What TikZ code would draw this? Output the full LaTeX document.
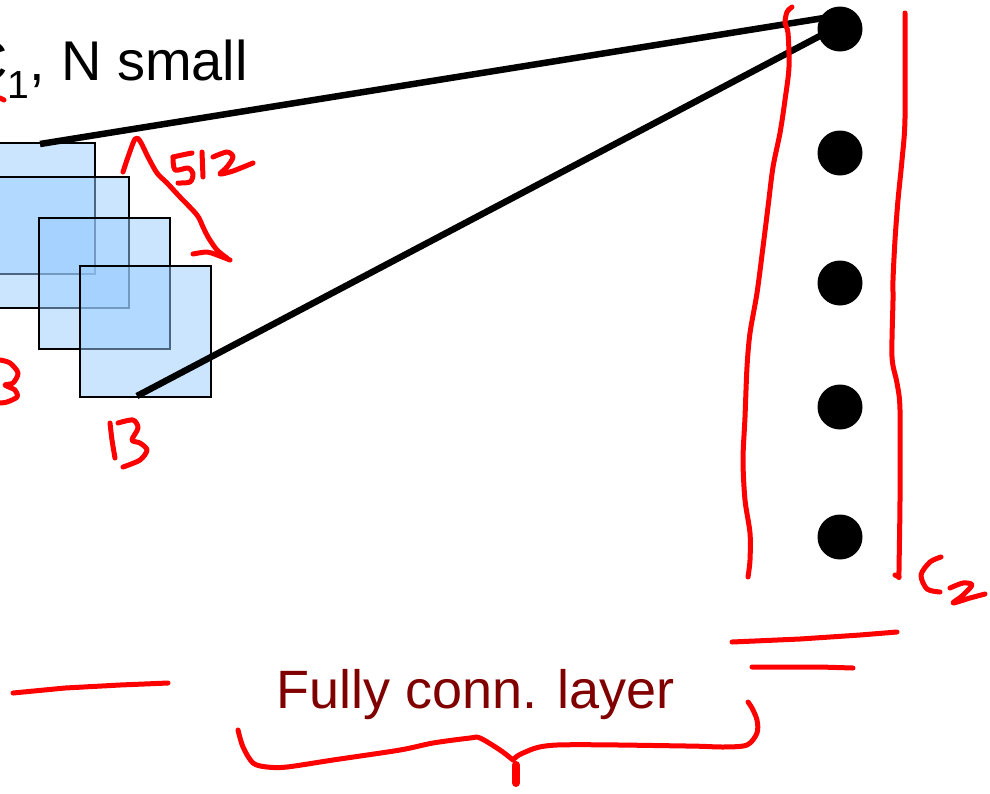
\documentclass[tikz,border=0pt]{standalone}
\usepackage{fontspec}
\setmainfont{Liberation Sans}
\usetikzlibrary{calc}
\definecolor{boxblue}{RGB}{153,204,255}
\definecolor{darkred}{RGB}{128,0,0}
\definecolor{pen}{RGB}{255,0,0}
\tikzset{
  sq/.style={rectangle, draw=black, line width=1.5pt, fill=boxblue, fill opacity=0.5, minimum size=131pt, inner sep=0pt},
  dot/.style={circle, fill=black, inner sep=0pt, minimum size=45pt},
  conn/.style={line width=6.5pt, black},
  ink/.style={pen, line width=5pt, line cap=round, line join=round},
  bigtext/.style={font=\fontsize{56}{62}\selectfont, inner sep=0pt}
}
\begin{document}
\begin{tikzpicture}[x=1pt, y=-1pt]
\useasboundingbox (0,0) rectangle (990,793);
\clip (0,0) rectangle (990,793);
% title
\node[bigtext, anchor=base west] (title) at (-33,80) {C\textsubscript{1}, N small};
% squares
\node[sq] (s1) at (29.5,208.5) {};
\node[sq] (s2) at (63.5,242.5) {};
\node[sq] (s3) at (104.5,283.5) {};
\node[sq] (s4) at (145.5,331.5) {};
% dots
\node[dot] (d1) at (840,29) {};
\node[dot] (d2) at (840,153) {};
\node[dot] (d3) at (840,283) {};
\node[dot] (d4) at (840,407) {};
\node[dot] (d5) at (840,537) {};
% connectors
\coordinate (a1) at (40,144);
\coordinate (a2) at (137,396);
\draw[conn] (a1) -- ($(d1)+(-10,-12)$);
\draw[conn] (a2) -- ($(d1)+(-5,-1)$);
% text
\node[bigtext, anchor=base west, text=darkred, font=\fontsize{54}{60}\selectfont] (fcl) at (276,708) {Fully conn. layer};
% red annotations
\draw[ink] (0,98) -- (4,100);
% left 3
\draw[ink] plot[smooth] coordinates {(0,360) (10,363) (18,373) (13,383) (5,385) (15,390) (17,397) (7,402) (0,403)};
% 512 arrow
\draw[ink] plot[smooth] coordinates {(123,172) (128,157) (135,139) (140,141) (148,157) (157,173) (167,183) (180,197) (197,215) (203,227) (208,237) (217,250) (227,258)};
\draw[ink] plot[smooth] coordinates {(193,254) (207,252) (217,255) (230,260)};
% 5
\draw[ink] plot[smooth] coordinates {(192,153) (182,155) (173,157)};
\draw[ink] plot[smooth] coordinates {(173,157) (175,170) (188,168) (193,174) (190,182) (178,183)};
% 1
\draw[ink] (202,152) -- (203,177);
% 2
\draw[ink] plot[smooth] coordinates {(213,157) (227,152) (233,157) (227,167) (220,174) (233,171) (253,163)};
% 13
\draw[ink] plot[smooth] coordinates {(110,423) (112,440) (115,458)};
\draw[ink] plot[smooth] coordinates {(118,423) (133,420) (138,428) (132,440) (140,443) (147,450) (140,460) (123,467)};
% vertical brackets
\draw[ink] plot[smooth] coordinates {(792,7) (787,12) (785,23) (788,33) (789,67) (785,100) (780,133) (773,167) (768,207) (763,247) (757,293) (750,333) (747,367) (745,417) (743,460) (745,500) (750,533) (750,560) (748,577)};
\draw[ink] plot[smooth] coordinates {(905,13) (905,118) (902,160) (898,200) (895,240) (893,280) (893,300) (892,357) (897,383) (900,410) (900,500) (899,570) (899,577)};
\draw[ink] (899,577) -- (895,575);
% c2
\draw[ink] plot[smooth] coordinates {(941,557) (930,562) (921,575) (927,589) (940,592)};
\draw[ink] plot[smooth] coordinates {(950,588) (963,583) (972,585) (962,596) (953,603) (970,598) (985,594)};
% horizontal strokes
\draw[ink] (13,693) -- (65,688) -- (120,685) -- (168,683);
\draw[ink] (732,642) -- (800,639) -- (860,635) -- (897,632);
\draw[ink] (752,667) -- (820,667) -- (853,668);
% brace
\draw[ink] plot[smooth] coordinates {(238,730) (243,747) (253,763) (267,767) (287,767) (333,760) (400,750) (433,743) (470,738) (480,738) (500,750) (513,760)};
\draw[ink] plot[smooth] coordinates {(513,760) (523,753) (557,745) (687,746) (723,747) (747,745) (757,733) (757,720) (752,708) (748,702)};
\draw[ink, line width=8pt] (516,765) -- (516,783);
\end{tikzpicture}
\end{document}
